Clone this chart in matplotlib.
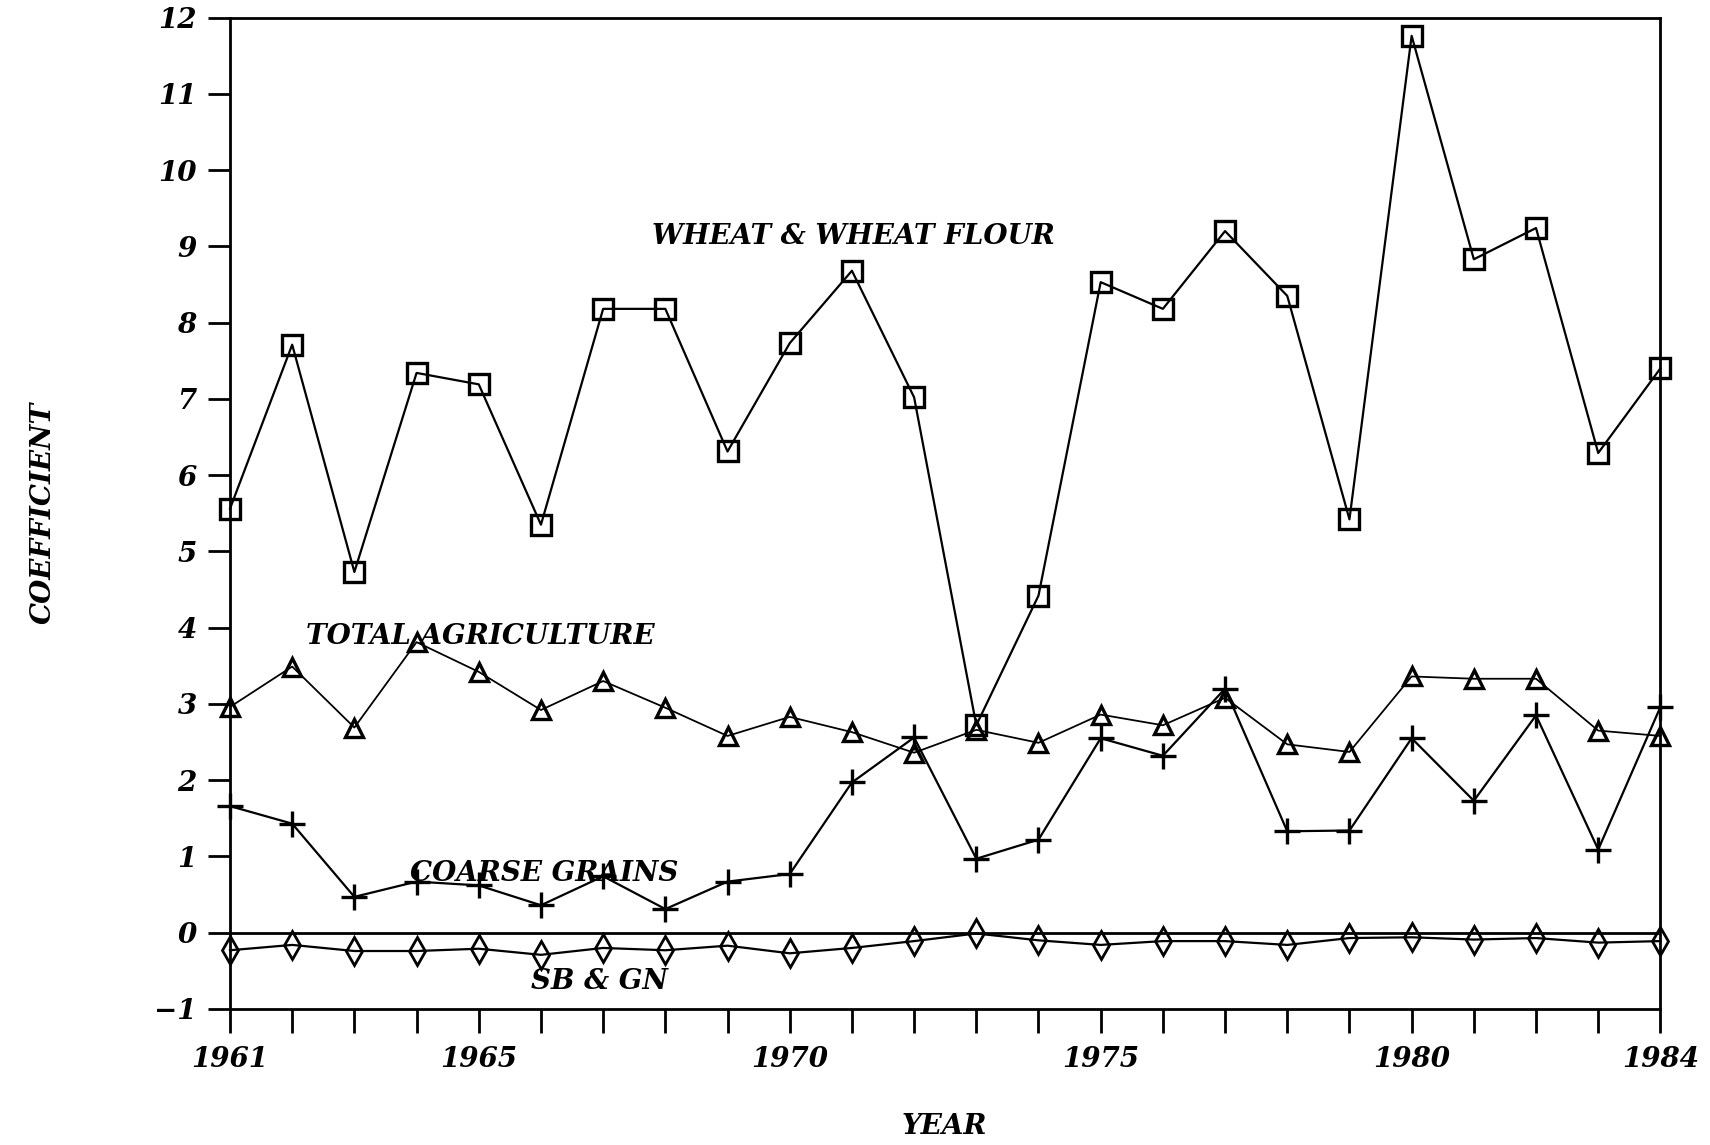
import matplotlib
matplotlib.use("Agg")
import matplotlib.pyplot as plt

years = list(range(1961, 1985))
wheat = [5.56, 7.71, 4.73, 7.34, 7.19, 5.35, 8.18, 8.18, 6.31, 7.73, 8.68, 7.02,
         2.72, 4.42, 8.53, 8.18, 9.20, 8.35, 5.42, 11.76, 8.83, 9.24, 6.29, 7.40]
total_ag = [2.96, 3.49, 2.69, 3.81, 3.42, 2.92, 3.30, 2.95, 2.58, 2.83, 2.63, 2.36,
            2.66, 2.49, 2.86, 2.72, 3.08, 2.47, 2.37, 3.36, 3.33, 3.33, 2.65, 2.58]
coarse = [1.66, 1.43, 0.47, 0.67, 0.62, 0.36, 0.74, 0.31, 0.67, 0.77, 1.97, 2.56,
          0.97, 1.22, 2.55, 2.32, 3.20, 1.33, 1.34, 2.55, 1.73, 2.85, 1.09, 2.96]
sbgn = [-0.23, -0.16, -0.24, -0.24, -0.21, -0.29, -0.20, -0.23, -0.17, -0.27, -0.20, -0.11,
        -0.01, -0.10, -0.16, -0.11, -0.11, -0.16, -0.07, -0.06, -0.09, -0.07, -0.13, -0.11]
xtick_labels = [1961, 1965, 1970, 1975, 1980, 1984]
yticks = list(range(-1, 13))

font = dict(family="DejaVu Serif", weight="bold", style="italic")

fig = plt.figure(figsize=(17.1, 11.45), dpi=100)
ax = fig.add_axes([0.1345, 0.1188, 0.971 - 0.1345, 0.9847 - 0.1188])

lw = 1.6
ax.plot(years, wheat, color="black", lw=lw, marker="s", ms=14, mfc="none", mew=2.4, clip_on=False)
ax.plot(years, total_ag, color="black", lw=lw * 0.8, marker="^", ms=13, mfc="none", mew=2.4, clip_on=False)
ax.plot(years, coarse, color="black", lw=lw, marker="+", ms=19, mew=2.4, clip_on=False)
ax.plot(years, sbgn, color="black", lw=lw, marker="d", ms=14, mfc="none", mew=2.0, clip_on=False)
ax.axhline(0, color="black", lw=2)

ax.set_xlim(1961, 1984)
ax.set_ylim(-1, 12)
ax.set_xticks(years)
ax.set_xticklabels([str(y) if y in xtick_labels else "" for y in years], fontsize=20, **font)
ax.set_yticks(yticks)
ax.set_yticklabels([("\u2212" + str(-v)) if v < 0 else str(v) for v in yticks], fontsize=20, **font)
ax.tick_params(axis="x", direction="out", length=17, width=2, pad=10)
ax.tick_params(axis="y", direction="out", length=16, width=2, pad=8)
for s in ax.spines.values():
    s.set_linewidth(2)

ax.text(1967.78, 9.13, "WHEAT & WHEAT FLOUR", fontsize=20, va="center", ha="left", **font)
ax.text(1962.23, 3.88, "TOTAL AGRICULTURE", fontsize=20, va="center", ha="left", **font)
ax.text(1963.9, 0.77, "COARSE GRAINS", fontsize=20, va="center", ha="left", **font)
ax.text(1965.84, -0.64, "SB & GN", fontsize=20, va="center", ha="left", **font)

fig.text(866 * 1.0906 / 1710, 1 - 1033 * 1.0906 / 1145, "YEAR", fontsize=20,
         ha="center", va="center", **font)
fig.text(40 * 1.0906 / 1710, 1 - 470 * 1.0906 / 1145, "COEFFICIENT", fontsize=20,
         ha="center", va="center", rotation=90, **font)

fig.savefig("out.png", dpi=100)
